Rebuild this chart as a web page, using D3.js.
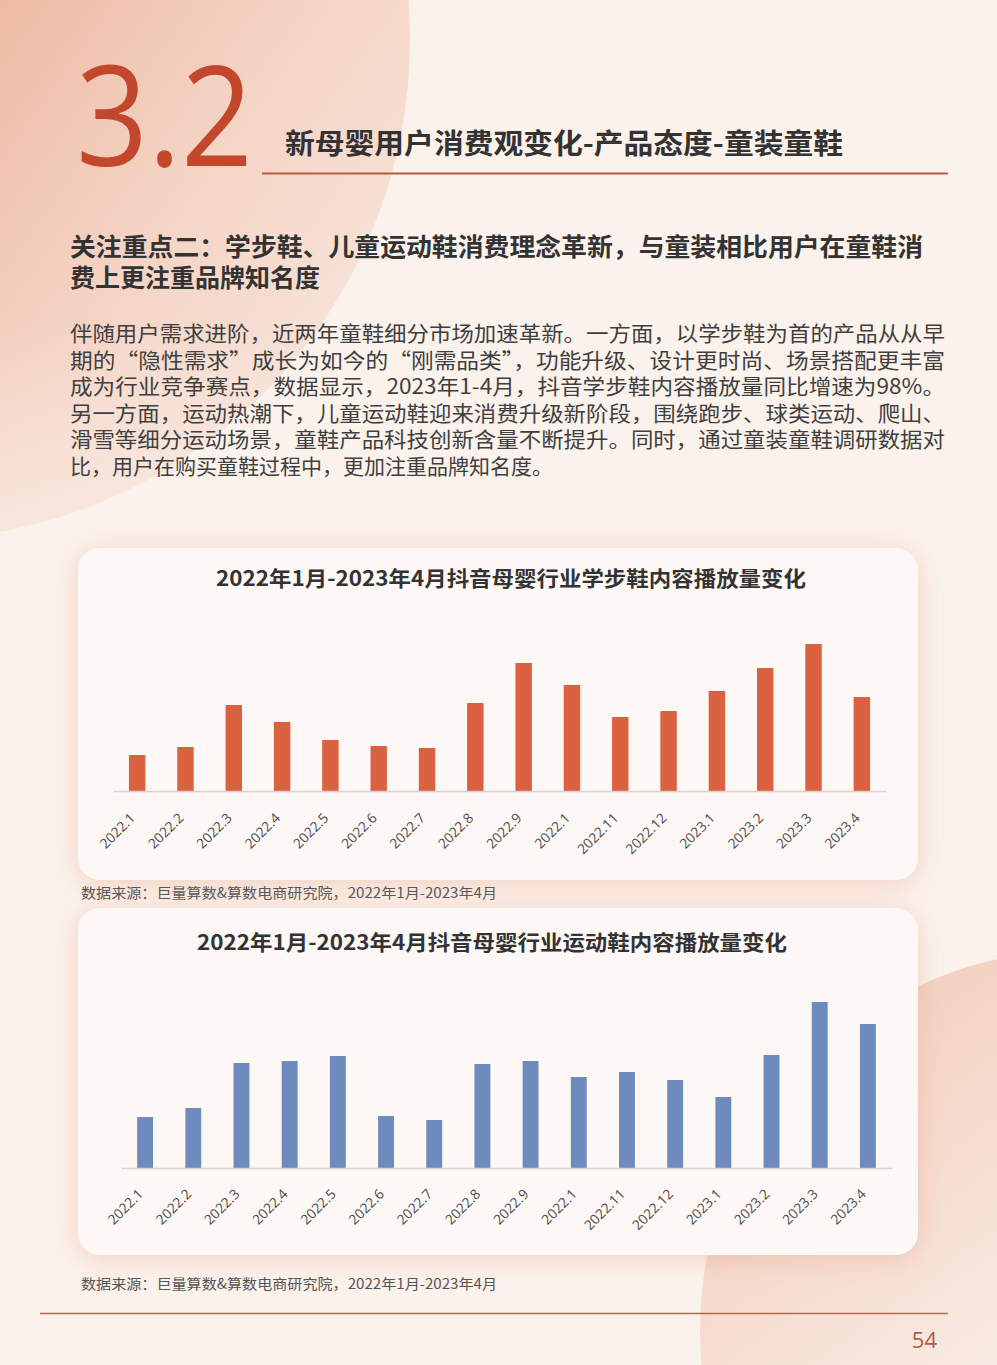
<!DOCTYPE html>
<html><head><meta charset="utf-8">
<script src="https://cdn.jsdelivr.net/npm/d3@7/dist/d3.min.js"></script>
<style>
html,body{margin:0;padding:0;background:#fbf2ec;}
svg{display:block;}
</style></head>
<body>
<div id="page"></div>
<script>
// ---- data ----
const months = ["2022.1","2022.2","2022.3","2022.4","2022.5","2022.6","2022.7","2022.8","2022.9","2022.1","2022.11","2022.12","2023.1","2023.2","2023.3","2023.4"];
const walkingShoes = [36,44,86,69,51,45,43,88,128,106,74,80,100,123,147,94];
const sportShoes = [51,60,105,107,112,52,48,104,107,91,96,88,71,113,166,144];
const chartTitles = ["2022年1月-2023年4月抖音母婴行业学步鞋内容播放量变化","2022年1月-2023年4月抖音母婴行业运动鞋内容播放量变化"];
const sourceText = "数据来源：巨量算数&算数电商研究院，2022年1月-2023年4月";
const headNumber = "3.2";
const headTitle = "新母婴用户消费观变化-产品态度-童装童鞋";
const focusLines = ["关注重点二：学步鞋、儿童运动鞋消费理念革新，与童装相比用户在童鞋消","费上更注重品牌知名度"];
const bodyLines = [
 "伴随用户需求进阶，近两年童鞋细分市场加速革新。一方面，以学步鞋为首的产品从从早",
 "期的“隐性需求”成长为如今的“刚需品类”，功能升级、设计更时尚、场景搭配更丰富",
 "成为行业竞争赛点，数据显示，2023年1-4月，抖音学步鞋内容播放量同比增速为98%。",
 "另一方面，运动热潮下，儿童运动鞋迎来消费升级新阶段，围绕跑步、球类运动、爬山、",
 "滑雪等细分运动场景，童鞋产品科技创新含量不断提升。同时，通过童装童鞋调研数据对",
 "比，用户在购买童鞋过程中，更加注重品牌知名度。"
];
const pageNo = "54";

const W = 997, H = 1365;
const CJK = "'Noto Sans CJK SC','Noto Sans',sans-serif";
const svg = d3.select("#page").append("svg").attr("width", W).attr("height", H);
const defs = svg.append("defs");

// background
const lg = defs.append("linearGradient").attr("id","leftg").attr("gradientUnits","userSpaceOnUse")
  .attr("x1",0).attr("y1",0).attr("x2",420).attr("y2",300);
lg.append("stop").attr("offset",0).attr("stop-color","#eebba5");
lg.append("stop").attr("offset",0.5).attr("stop-color","#f4d4c5");
lg.append("stop").attr("offset",1).attr("stop-color","#f8e5db");
const rg = defs.append("linearGradient").attr("id","rightg").attr("gradientUnits","userSpaceOnUse")
  .attr("x1",720).attr("y1",990).attr("x2",997).attr("y2",1365);
rg.append("stop").attr("offset",0).attr("stop-color","#f1c8b5");
rg.append("stop").attr("offset",0.5).attr("stop-color","#f5dacd");
rg.append("stop").attr("offset",1).attr("stop-color","#f9ebe3");
const fadeTop = defs.append("linearGradient").attr("id","fadeg").attr("x1",0).attr("y1",0).attr("x2",0).attr("y2",1);
fadeTop.append("stop").attr("offset",0).attr("stop-color","#fbf2ec").attr("stop-opacity",0);
fadeTop.append("stop").attr("offset",1).attr("stop-color","#fbf2ec").attr("stop-opacity",0.6);

svg.append("rect").attr("width",W).attr("height",H).attr("fill","#fbf2ec");
svg.append("circle").attr("cx",-90).attr("cy",40).attr("r",500).attr("fill","url(#leftg)");
svg.append("rect").attr("x",0).attr("y",320).attr("width",420).attr("height",230).attr("fill","url(#fadeg)");
svg.append("circle").attr("cx",1080).attr("cy",1330).attr("r",380).attr("fill","url(#rightg)");

// shadow filter
const f = defs.append("filter").attr("id","shadow").attr("x","-20%").attr("y","-20%").attr("width","140%").attr("height","140%");
f.append("feDropShadow").attr("dx",0).attr("dy",4).attr("stdDeviation",14)
  .attr("flood-color","#e9a487").attr("flood-opacity",0.45);

// header
svg.append("text").attr("x",76).attr("y",166).text(headNumber)
  .attr("font-family","'Open Sans','Noto Sans',sans-serif").attr("font-weight",400)
  .attr("font-size",140).attr("fill","#c3472c")
  .attr("textLength",177).attr("lengthAdjust","spacingAndGlyphs");
svg.append("text").attr("x",285).attr("y",154).text(headTitle)
  .attr("font-family",CJK).attr("font-weight",700).attr("font-size",28).attr("fill","#333")
  .attr("textLength",558).attr("lengthAdjust","spacingAndGlyphs");
svg.append("line").attr("x1",262).attr("x2",948).attr("y1",173.5).attr("y2",173.5)
  .attr("stroke","#b25d3e").attr("stroke-width",2);

// focus heading
svg.selectAll("text.focus").data(focusLines).join("text").attr("class","focus")
  .attr("x",70).attr("y",(d,i)=>256+i*31).text(d=>d)
  .attr("font-family",CJK).attr("font-weight",700).attr("font-size",25).attr("fill","#333")
  .each(function(d,i){ if(i===0) d3.select(this).attr("textLength",853).attr("lengthAdjust","spacingAndGlyphs"); });

// body
svg.selectAll("text.body").data(bodyLines).join("text").attr("class","body")
  .attr("x",70).attr("y",(d,i)=>341+i*26.6).text(d=>d)
  .attr("font-family",CJK).attr("font-weight",400).attr("font-size",21).attr("fill","#3f3f3f")
  .each(function(d,i){ if(i<5) d3.select(this).attr("textLength",875).attr("lengthAdjust","spacingAndGlyphs"); });

// charts
function drawChart(cfg){
  const g = svg.append("g");
  g.append("rect").attr("x",cfg.card[0]).attr("y",cfg.card[1]).attr("width",cfg.card[2]).attr("height",cfg.card[3])
    .attr("rx",22).attr("fill","#fdf8f5").attr("filter","url(#shadow)");
  g.append("text").attr("x",cfg.titleX).attr("y",cfg.titleY).attr("text-anchor","middle").text(cfg.title)
    .attr("font-family",CJK).attr("font-weight",700).attr("font-size",21).attr("fill","#333")
    .attr("textLength",590).attr("lengthAdjust","spacingAndGlyphs");
  const x = d3.scaleBand().domain(d3.range(months.length)).range(cfg.xr).paddingInner(cfg.pad).paddingOuter(cfg.pad/2);
  const y = d3.scaleLinear().domain([0,170]).range([cfg.base, cfg.base-170]);
  g.selectAll("rect.bar").data(cfg.values).join("rect").attr("class","bar")
    .attr("x",(d,i)=>x(i)).attr("width",x.bandwidth())
    .attr("y",d=>y(d)).attr("height",d=>y(0)-y(d)).attr("fill",cfg.color);
  const ax = g.append("g").attr("transform",`translate(0,${cfg.base})`)
    .call(d3.axisBottom(x).tickSize(0).tickSizeOuter(0).tickFormat(i=>months[i]));
  ax.select(".domain").attr("stroke","#d8d2ce").attr("stroke-width",1.5);
  ax.selectAll("text").attr("font-family","'Open Sans','Noto Sans',sans-serif").attr("font-size",13.8).attr("fill","#4d4d4d")
    .attr("text-anchor","end").attr("dy",0).attr("y",0)
    .attr("transform",`translate(-1,${cfg.ldy}) rotate(-45)`);
  g.append("text").attr("x",81).attr("y",cfg.srcY).text(sourceText)
    .attr("font-family",CJK).attr("font-size",14).attr("fill","#555")
    .attr("textLength",416).attr("lengthAdjust","spacingAndGlyphs");
}
drawChart({card:[78,548,840,332], title:chartTitles[0], titleX:511, titleY:586, xr:[113,886], pad:0.66,
  base:791, values:walkingShoes, color:"#da6240", srcY:898, ldy:28});
drawChart({card:[78,908,840,347], title:chartTitles[1], titleX:492, titleY:950, xr:[121,892], pad:0.67,
  base:1168, values:sportShoes, color:"#6f8bbd", srcY:1289, ldy:27});

// footer
svg.append("line").attr("x1",40).attr("x2",948).attr("y1",1313.5).attr("y2",1313.5)
  .attr("stroke","#b46b50").attr("stroke-width",1.5);
svg.append("text").attr("x",937).attr("y",1348).attr("text-anchor","end").text(pageNo)
  .attr("font-family","'Open Sans','Noto Sans',sans-serif").attr("font-size",22).attr("fill","#b45a45");
</script>
</body></html>
